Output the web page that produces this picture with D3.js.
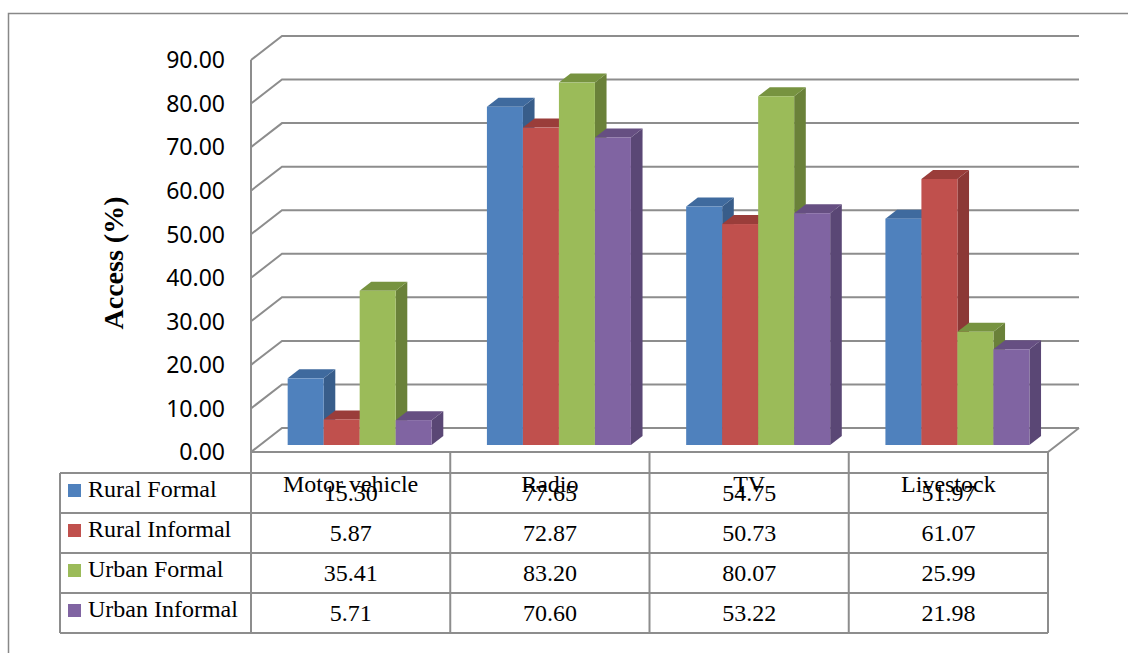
<!DOCTYPE html>
<html>
<head>
<meta charset="utf-8">
<script src="https://cdn.jsdelivr.net/npm/d3@7/dist/d3.min.js"></script>
<style>
  html, body { margin: 0; padding: 0; background: #fff; }
  svg { display: block; }
</style>
</head>
<body>
<svg id="chart" width="1128" height="653"></svg>
<script>
// ---- data ----
const categories = ["Motor vehicle", "Radio", "TV", "Livestock"];
const seriesNames = ["Rural Formal", "Rural Informal", "Urban Formal", "Urban Informal"];
const ruralFormal = [15.30, 77.65, 54.75, 51.97];
const ruralInformal = [5.87, 72.87, 50.73, 61.07];
const urbanFormal = [35.41, 83.20, 80.07, 25.99];
const urbanInformal = [5.71, 70.60, 53.22, 21.98];
const yTicks = [0, 10, 20, 30, 40, 50, 60, 70, 80, 90];
const yTitle = "Access (%)";

const seriesValues = [ruralFormal, ruralInformal, urbanFormal, urbanInformal];
const colors = {
  front: ["#4F81BD", "#C0504D", "#9BBB59", "#8064A2"],
  side:  ["#385D8A", "#8C3836", "#6A8139", "#5A4775"],
  top:   ["#3F6A9E", "#9A3D3A", "#779340", "#664F82"]
};

// ---- layout ----
const svg = d3.select("#chart");
const left = 251, right = 1048, floorY = 452, topY = 60;
const depth = { dx: 31, dy: -24 };
const barPlane = 7 / 24, barDepth = 9 / 24;
const groupW = 144;
const gridColor = "#8d8d8d";

const x = d3.scaleBand().domain(categories).range([left, right]);
const inner = d3.scaleBand().domain(seriesNames)
  .range([(x.bandwidth() - groupW) / 2, (x.bandwidth() + groupW) / 2]);
const y = d3.scaleLinear().domain([0, 90]).range([floorY, topY]);

// outer border
svg.append("rect").attr("x", 8.5).attr("y", 13.5).attr("width", 1140).attr("height", 700)
  .attr("fill", "none").attr("stroke", "#888").attr("stroke-width", 1.5);

// gridlines (side wall + back wall)
const gGrid = svg.append("g").attr("fill", "none").attr("stroke", gridColor).attr("stroke-width", 2);
yTicks.forEach(t => {
  const yf = y(t);
  gGrid.append("polyline")
    .attr("points", [[left, yf], [left + depth.dx, yf + depth.dy], [right + depth.dx, yf + depth.dy]].map(p => p.join(",")).join(" "));
});
// floor
gGrid.append("polyline")
  .attr("points", [[left, floorY], [right, floorY], [right + depth.dx, floorY + depth.dy]].map(p => p.join(",")).join(" "));
// left wall front edge
gGrid.append("line").attr("x1", left).attr("x2", left).attr("y1", y(90)).attr("y2", floorY);

// y tick labels
svg.append("g").selectAll("text").data(yTicks).join("text")
  .attr("x", 225).attr("y", d => y(d))
  .attr("dy", "0.36em")
  .attr("text-anchor", "end")
  .attr("font-family", "'Noto Sans', sans-serif")
  .attr("font-size", 23)
  .attr("fill", "#000")
  .text(d => d3.format(".2f")(d));

// y title
svg.append("text")
  .attr("transform", "translate(123,263) rotate(-90)")
  .attr("text-anchor", "middle")
  .attr("font-family", "'Liberation Serif', serif")
  .attr("font-weight", "bold")
  .attr("font-size", 28)
  .text(yTitle);

// bars
const pOff = { dx: depth.dx * barPlane, dy: depth.dy * barPlane };
const bD = { dx: depth.dx * barDepth, dy: depth.dy * barDepth };
const gBars = svg.append("g");
const pts = arr => arr.map(p => p.join(",")).join(" ");
categories.forEach((cat, ci) => {
  seriesNames.forEach((s, si) => {
    const v = seriesValues[si][ci];
    const xl = x(cat) + inner(s) + pOff.dx;
    const xr = xl + inner.bandwidth();
    const yt = y(v) + pOff.dy;
    const yb = y(0) + pOff.dy;
    const g = gBars.append("g");
    g.append("polygon").attr("points", pts([[xr, yt], [xr + bD.dx, yt + bD.dy], [xr + bD.dx, yb + bD.dy], [xr, yb]]))
      .attr("fill", colors.side[si]);
    g.append("polygon").attr("points", pts([[xl, yt], [xl + bD.dx, yt + bD.dy], [xr + bD.dx, yt + bD.dy], [xr, yt]]))
      .attr("fill", colors.top[si]);
    g.append("rect").attr("x", xl).attr("y", yt).attr("width", xr - xl).attr("height", yb - yt)
      .attr("fill", colors.front[si]);
  });
});

// data table
const rows = d3.scaleBand().domain(seriesNames).range([473, 633]);
const tableLeft = 60;
const gT = svg.append("g").attr("stroke", gridColor).attr("stroke-width", 2).attr("fill", "none");
// horizontal lines
[473, 513, 553, 593, 633].forEach(yy => {
  gT.append("line").attr("x1", tableLeft).attr("x2", right).attr("y1", yy).attr("y2", yy);
});
// vertical lines
gT.append("line").attr("x1", tableLeft).attr("x2", tableLeft).attr("y1", 473).attr("y2", 633);
categories.forEach(c => {
  gT.append("line").attr("x1", x(c)).attr("x2", x(c)).attr("y1", floorY).attr("y2", 633);
});
gT.append("line").attr("x1", right).attr("x2", right).attr("y1", floorY).attr("y2", 633);

const serif = "'Liberation Serif', serif";
// legend keys and names
seriesNames.forEach((s, si) => {
  const ry = rows(s);
  svg.append("rect").attr("x", 68).attr("y", ry + 11).attr("width", 13).attr("height", 13)
    .attr("fill", colors.front[si]);
  svg.append("text").attr("x", 88).attr("y", ry + 24)
    .attr("font-family", serif).attr("font-size", 24).text(s);
});
// values
seriesNames.forEach((s, si) => {
  categories.forEach((c, ci) => {
    svg.append("text")
      .attr("x", x(c) + x.bandwidth() / 2).attr("y", rows(s) + 28)
      .attr("text-anchor", "middle")
      .attr("font-family", serif).attr("font-size", 24)
      .text(d3.format(".2f")(seriesValues[si][ci]));
  });
});
// category labels (overlapping first row as in original)
categories.forEach(c => {
  svg.append("text")
    .attr("x", x(c) + x.bandwidth() / 2).attr("y", 492)
    .attr("text-anchor", "middle")
    .attr("font-family", serif).attr("font-size", 24)
    .text(c);
});
</script>
</body>
</html>
